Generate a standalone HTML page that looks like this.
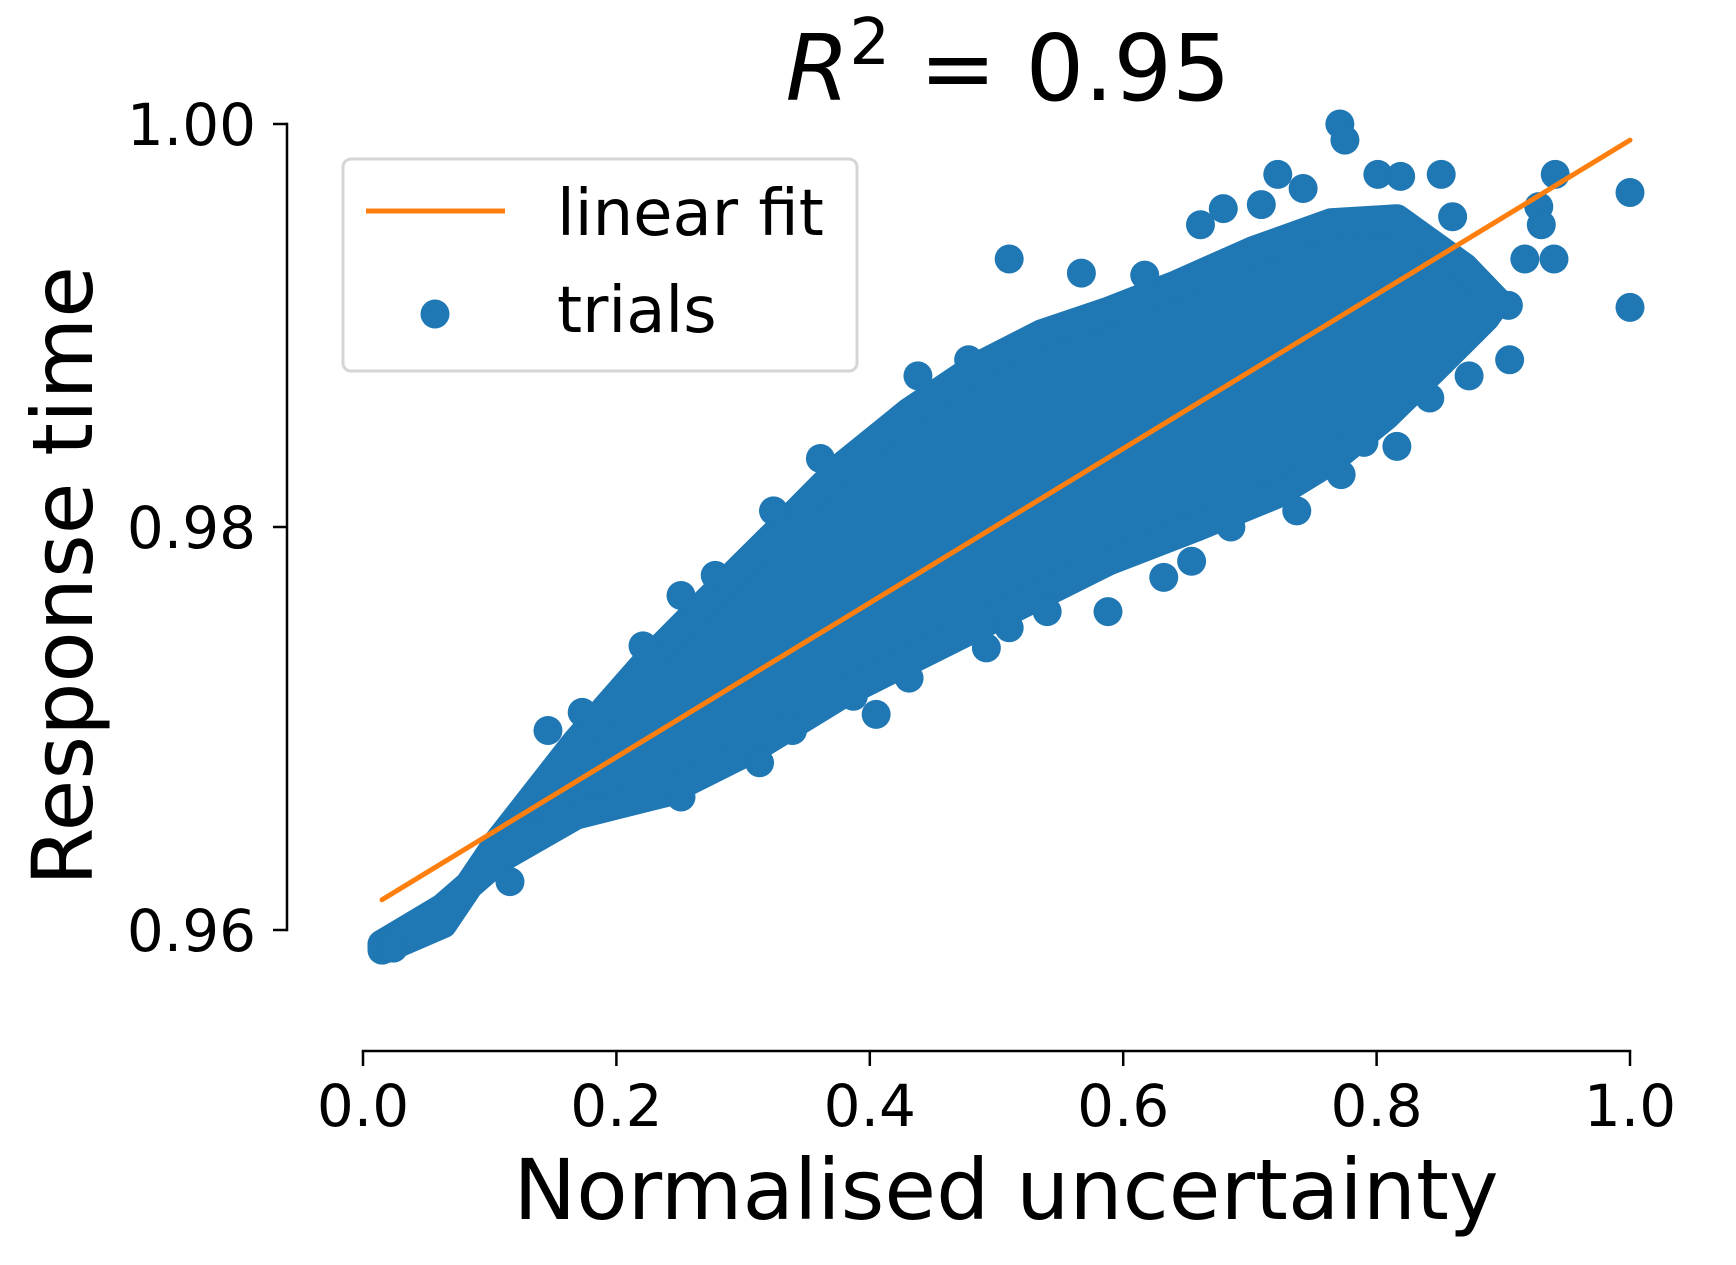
<!DOCTYPE html>
<html><head><meta charset="utf-8"><style>
html,body{margin:0;padding:0;background:#fff}
svg{display:block;font-family:"DejaVu Sans","Liberation Sans",sans-serif}
</style></head><body>
<svg id="chart" width="1736" height="1265" viewBox="0 0 1736 1265" xmlns="http://www.w3.org/2000/svg">
<g id="plot"></g>
<g id="axes"></g>
<text x="1008" y="100" font-size="92" text-anchor="middle"><tspan font-style="italic">R</tspan><tspan dy="-36" font-size="64">2</tspan><tspan dy="36"> = 0.95</tspan></text>
<text transform="translate(92,576) rotate(-90)" font-size="84" text-anchor="middle">Response time</text>
<text x="1006" y="1219" font-size="84" text-anchor="middle">Normalised uncertainty</text>
<g>
<rect x="343" y="159" width="514" height="212" rx="8" fill="#fff" fill-opacity="0.8" stroke="#d5d5d5" stroke-width="3"/>
<line x1="366" y1="211" x2="505" y2="211" stroke="#ff7f0e" stroke-width="5"/>
<text x="557" y="235" font-size="64">linear fit</text>
<circle cx="435" cy="314" r="14.5" fill="#1f77b4"/>
<text x="557" y="332" font-size="64">trials</text>
</g>
</svg>
<script>
const xTicks=[0.0,0.2,0.4,0.6,0.8,1.0];
const xTickLabels=["0.0","0.2","0.4","0.6","0.8","1.0"];
const yTicks=[0.96,0.98,1.00];
const yTickLabels=["0.96","0.98","1.00"];
const upperX=[0.015,0.063,0.107,0.168,0.221,0.273,0.326,0.378,0.431,0.483,0.536,0.588,0.641,0.702,0.764,0.816,0.869,0.895];
const upperY=[0.9590,0.9603,0.9644,0.9693,0.9731,0.9764,0.9797,0.9830,0.9857,0.9879,0.9896,0.9907,0.9920,0.9937,0.9951,0.9953,0.9929,0.9912];
const lowerX=[0.886,0.851,0.807,0.764,0.720,0.658,0.588,0.518,0.448,0.378,0.308,0.238,0.168,0.107,0.063,0.015];
const lowerY=[0.9904,0.9882,0.9855,0.9833,0.9816,0.9800,0.9783,0.9761,0.9739,0.9717,0.9690,0.9668,0.9657,0.9635,0.9611,0.9593];
const trialX=[0.015,0.024,0.324,0.361,0.438,0.478,0.510,0.567,0.617,0.661,0.679,0.709,0.722,0.742,0.771,0.775,0.801,0.819,0.851,0.860,0.928,0.941,0.930,0.917,0.940,1.000,1.000,0.904,0.905,0.873,0.842,0.816,0.772,0.737,0.685,0.632,0.588,0.540,0.492,0.431,0.405,0.339,0.313,0.251,0.146,0.251,0.278,0.221,0.173,0.116,0.151,0.790,0.729,0.654,0.510,0.387];
const trialY=[0.9591,0.9591,0.9808,0.9834,0.9875,0.9883,0.9933,0.9926,0.9925,0.9950,0.9958,0.9960,0.9975,0.9968,1.0000,0.9992,0.9975,0.9974,0.9975,0.9954,0.9959,0.9975,0.9950,0.9933,0.9933,0.9966,0.9909,0.9910,0.9883,0.9875,0.9864,0.9840,0.9826,0.9808,0.9800,0.9775,0.9758,0.9758,0.9740,0.9725,0.9707,0.9699,0.9683,0.9666,0.9699,0.9766,0.9776,0.9741,0.9708,0.9624,0.9657,0.9842,0.9820,0.9783,0.9750,0.9716];
const fitX=[0.015,1.0];
const fitY=[0.9615,0.9992];

const NS="http://www.w3.org/2000/svg";
const X0=363,X1=1630,Y_TOP=124,Y_BOT=930;
function sx(v){return X0+(X1-X0)*v;}
function sy(v){return Y_BOT-(v-0.96)/(1.00-0.96)*(Y_BOT-Y_TOP);}
function mk(tag,attrs,parent){const e=document.createElementNS(NS,tag);for(const k in attrs)e.setAttribute(k,attrs[k]);parent.appendChild(e);return e;}
const plot=document.getElementById('plot');
const axes=document.getElementById('axes');
const R=14.5,C="#1f77b4";

let pts=[];
for(let i=0;i<upperX.length;i++)pts.push(sx(upperX[i])+','+sy(upperY[i]));
for(let i=0;i<lowerX.length;i++)pts.push(sx(lowerX[i])+','+sy(lowerY[i]));
const core=mk('polygon',{points:pts.join(' '),fill:C,stroke:C,'stroke-width':2*R,'stroke-linejoin':'round'},plot);


for(let i=0;i<trialX.length;i++){
  const c=mk('circle',{cx:sx(trialX[i]),cy:sy(trialY[i]),r:R,fill:C},plot);
  
  
}
const fl=mk('line',{x1:sx(fitX[0]),y1:sy(fitY[0]),x2:sx(fitX[1]),y2:sy(fitY[1]),stroke:'#ff7f0e','stroke-width':5,'stroke-linecap':'round'},plot);



const ya=mk('line',{x1:287,y1:sy(yTicks[0]),x2:287,y2:sy(yTicks[yTicks.length-1]),stroke:'#000','stroke-width':2.5,'stroke-linecap':'square'},axes);


for(let i=0;i<yTicks.length;i++){
  const y=sy(yTicks[i]);
  const t=mk('line',{x1:273,y1:y,x2:287,y2:y,stroke:'#000','stroke-width':2.5},axes);
  
  
  const l=mk('text',{x:256,y:y+21,'font-size':58,'text-anchor':'end'},axes);
  l.textContent=yTickLabels[i];
  
  
}
const AXY=1051;
const xa=mk('line',{x1:sx(xTicks[0]),y1:AXY,x2:sx(xTicks[xTicks.length-1]),y2:AXY,stroke:'#000','stroke-width':2.5,'stroke-linecap':'square'},axes);


for(let i=0;i<xTicks.length;i++){
  const x=sx(xTicks[i]);
  const t=mk('line',{x1:x,y1:AXY,x2:x,y2:AXY+15,stroke:'#000','stroke-width':2.5},axes);
  
  
  const l=mk('text',{x:x,y:1126,'font-size':58,'text-anchor':'middle'},axes);
  l.textContent=xTickLabels[i];
  
  
}
</script>
</body></html>
